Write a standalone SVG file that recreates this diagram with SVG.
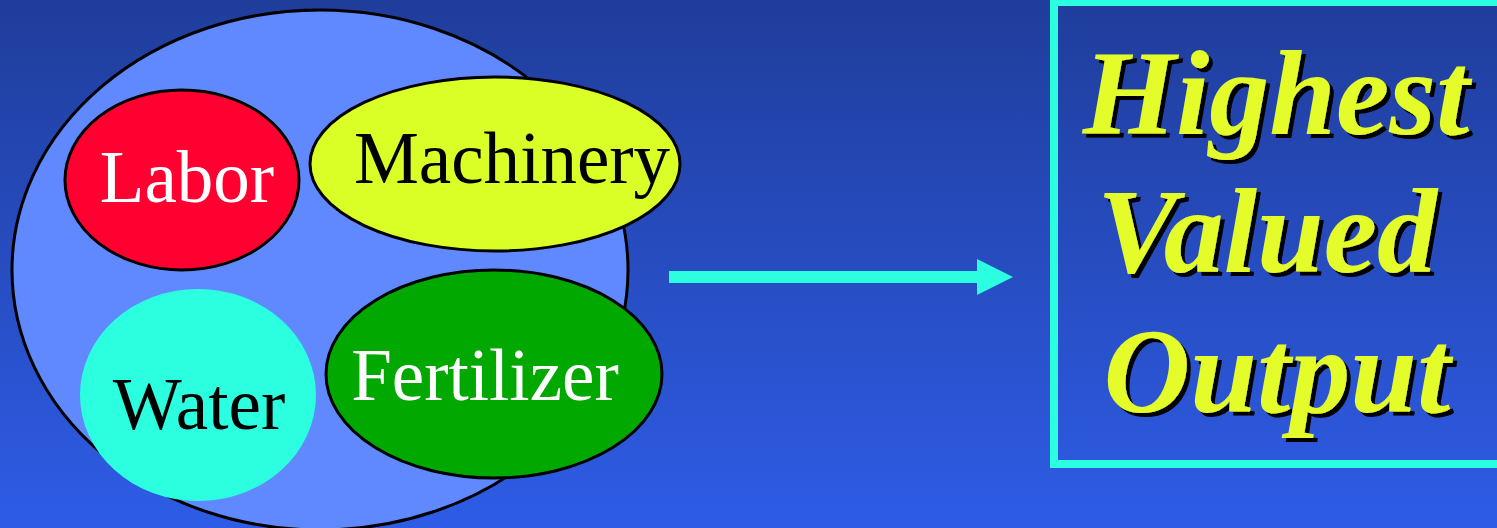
<svg xmlns="http://www.w3.org/2000/svg" width="1497" height="528" viewBox="0 0 1497 528">
<defs>
<linearGradient id="bg" x1="0" y1="0" x2="0" y2="1">
<stop offset="0" stop-color="#1F3D9B"/>
<stop offset="1" stop-color="#2E5CE6"/>
</linearGradient>
<filter id="sh" x="-10%" y="-10%" width="120%" height="130%">
<feFlood flood-color="#000"/>
<feComposite in2="SourceAlpha" operator="in"/>
<feOffset dx="4" dy="4" result="s"/>
<feMerge><feMergeNode in="s"/><feMergeNode in="SourceGraphic"/></feMerge>
</filter>
</defs>
<style>
.lbl{font-family:"Liberation Serif","Times New Roman",serif;font-size:73px;text-anchor:middle}
.big{font-family:"Liberation Serif","Times New Roman",serif;font-size:120px;font-weight:bold;font-style:italic;fill:#E4FC2A;text-anchor:middle}
.ol{stroke:#000;stroke-width:3}
</style>
<rect width="1497" height="528" fill="url(#bg)"/>
<g id="inputs">
<ellipse cx="320" cy="270" rx="308" ry="260" fill="#6089FF" class="ol"/>
</g>
<g id="labor">
<ellipse cx="182" cy="180" rx="117" ry="90" fill="#FF0030" class="ol"/>
<text x="187" y="202" class="lbl" fill="#fff">Labor</text>
</g>
<g id="machinery">
<ellipse cx="495" cy="164" rx="185" ry="87" fill="#D9FF27" class="ol"/>
<text x="512" y="183" class="lbl" fill="#000">Machinery</text>
</g>
<g id="water">
<ellipse cx="198" cy="395" rx="118" ry="106" fill="#2BFFE0"/>
<text x="199" y="429" class="lbl" fill="#000">Water</text>
</g>
<g id="fertilizer">
<ellipse cx="494" cy="374" rx="168" ry="104" fill="#00A800" class="ol"/>
<text x="485" y="400" class="lbl" fill="#fff">Fertilizer</text>
</g>
<g id="connectors">
<rect x="669" y="271" width="311" height="12" fill="#2BFFE0"/>
<polygon points="977,259 1013,277 977,295" fill="#2BFFE0"/>
</g>
<g id="output">
<rect x="1054" y="2" width="460" height="462" fill="none" stroke="#2BFFE0" stroke-width="8"/>
<g filter="url(#sh)">
<text x="1276" y="134" class="big">Highest</text>
<text x="1267" y="272" class="big">Valued</text>
<text x="1277" y="412" class="big">Output</text>
</g>
</g>
</svg>
